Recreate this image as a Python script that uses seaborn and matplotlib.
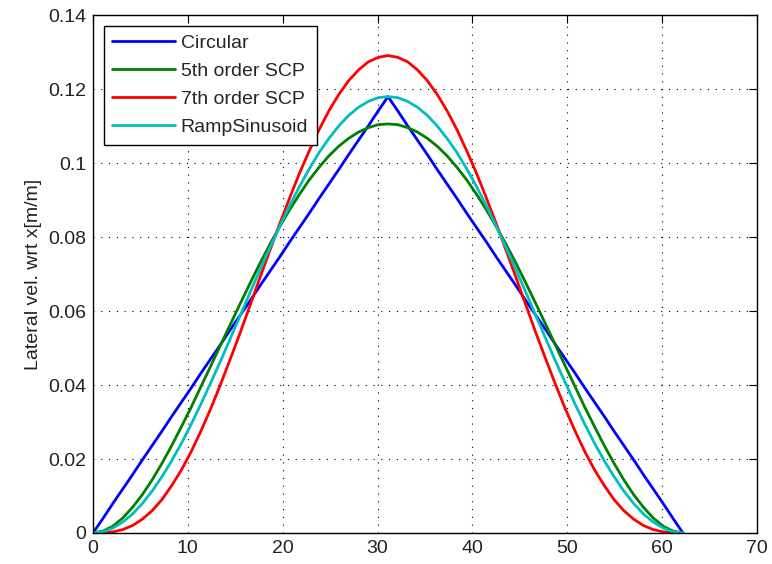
import pandas as pd
import matplotlib
matplotlib.use('Agg')
import matplotlib.pyplot as plt
import seaborn as sns

# x positions (m)
x = [0.0, 1.04, 2.07, 3.11, 4.15, 5.18, 6.22, 7.26, 8.29, 9.33, 10.37, 11.40, 12.44, 13.48,
     14.51, 15.55, 16.59, 17.62, 18.66, 19.70, 20.73, 21.77, 22.81, 23.84, 24.88, 25.92,
     26.95, 27.99, 29.03, 30.06, 31.10, 32.14, 33.17, 34.21, 35.25, 36.28, 37.32, 38.36,
     39.39, 40.43, 41.47, 42.50, 43.54, 44.58, 45.61, 46.65, 47.69, 48.72, 49.76, 50.80,
     51.83, 52.87, 53.91, 54.94, 55.98, 57.02, 58.05, 59.09, 60.13, 61.16, 62.20]

# rising half of each curve (up to the peak at x = 31.1)
half_circular = [0.0, 0.0039, 0.0079, 0.0118, 0.0157, 0.0197, 0.0236, 0.0275, 0.0315, 0.0354,
                 0.0393, 0.0433, 0.0472, 0.0511, 0.0551, 0.0590, 0.0629, 0.0669, 0.0708, 0.0747,
                 0.0787, 0.0826, 0.0865, 0.0905, 0.0944, 0.0983, 0.1023, 0.1062, 0.1101, 0.1141,
                 0.118]
half_scp5 = [0.0, 0.0005, 0.0018, 0.0040, 0.0069, 0.0103, 0.0143, 0.0188, 0.0236, 0.0288,
             0.0341, 0.0397, 0.0453, 0.0510, 0.0566, 0.0622, 0.0677, 0.0730, 0.0781, 0.0829,
             0.0874, 0.0916, 0.0955, 0.0989, 0.1020, 0.1046, 0.1067, 0.1084, 0.1096, 0.1104,
             0.1106]
half_scp7 = [0.0, 0.00004, 0.0003, 0.0009, 0.0020, 0.0037, 0.0060, 0.0090, 0.0128, 0.0171,
             0.0221, 0.0277, 0.0338, 0.0404, 0.0473, 0.0544, 0.0618, 0.0692, 0.0765, 0.0837,
             0.0906, 0.0973, 0.1034, 0.1091, 0.1142, 0.1186, 0.1223, 0.1252, 0.1274, 0.1286,
             0.1291]
half_ramp = [0.0, 0.0003, 0.0013, 0.0029, 0.0051, 0.0079, 0.0113, 0.0152, 0.0195, 0.0243,
             0.0295, 0.0350, 0.0408, 0.0467, 0.0528, 0.0590, 0.0652, 0.0713, 0.0772, 0.0830,
             0.0885, 0.0937, 0.0985, 0.1029, 0.1067, 0.1101, 0.1129, 0.1151, 0.1167, 0.1177,
             0.118]

# curves are symmetric about the peak
circular = half_circular + half_circular[-2::-1]
scp5 = half_scp5 + half_scp5[-2::-1]
scp7 = half_scp7 + half_scp7[-2::-1]
ramp = half_ramp + half_ramp[-2::-1]

names = ['Circular', '5th order SCP', '7th order SCP', 'RampSinusoid']
colors = ['#0000ff', '#008000', '#ff0000', '#00bfbf']

frames = []
for name, vals in zip(names, [circular, scp5, scp7, ramp]):
    frames.append(pd.DataFrame({'x': x, 'v': vals, 'curve': name}))
df = pd.concat(frames, ignore_index=True)

sns.set_style('white')
plt.rcParams['font.family'] = ['Liberation Sans', 'DejaVu Sans']

fig = plt.figure(figsize=(7.72, 5.64), dpi=100)
ax = fig.add_axes([0.1205, 0.055, 0.86, 0.918])

sns.lineplot(data=df, x='x', y='v', hue='curve', hue_order=names,
             palette=dict(zip(names, colors)), linewidth=2, ax=ax, sort=False)

ax.set_xlim(0, 70)
ax.set_ylim(0, 0.14)
ax.set_xticks(range(0, 71, 10))
ax.set_yticks([0, 0.02, 0.04, 0.06, 0.08, 0.1, 0.12, 0.14])
ax.set_yticklabels(['0', '0.02', '0.04', '0.06', '0.08', '0.1', '0.12', '0.14'])
ax.grid(True, color='black', linestyle=(0, (1, 6)), linewidth=0.8)
ax.tick_params(direction='in', top=True, right=True, labelsize=14, length=6,
               color='black', labelcolor='#222222', pad=5)
for sp in ax.spines.values():
    sp.set_color('black')
    sp.set_linewidth(1)

ax.set_xlabel('')
ax.set_ylabel('Lateral vel. wrt x[m/m]', fontsize=14, labelpad=4, color='#222222')

leg = ax.legend(loc='upper left', fontsize=14, handlelength=3.2, handletextpad=0.3,
                fancybox=False, framealpha=1, edgecolor='black', borderaxespad=0.55,
                labelspacing=0.53, borderpad=0.45)
leg.get_frame().set_linewidth(1)

fig.savefig('out.png', dpi=100)
